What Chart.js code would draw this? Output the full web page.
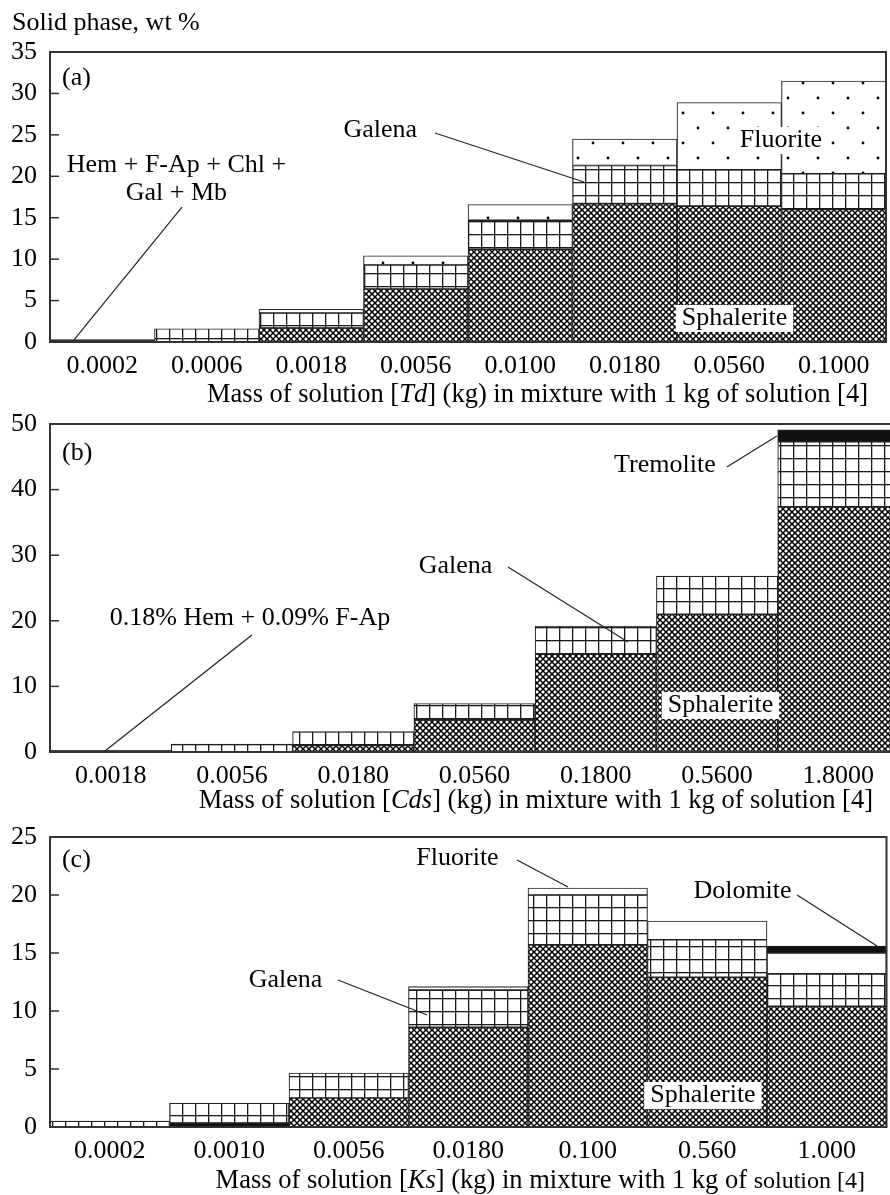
<!DOCTYPE html>
<html>
<head>
<meta charset="utf-8">
<script src="https://cdn.jsdelivr.net/npm/chart.js@4.4.1/dist/chart.umd.min.js"></script>
<style>
html, body { margin: 0; padding: 0; background: #fff; overflow: hidden; width: 890px; height: 1195px; }
canvas { position: absolute; left: 0; }
#chartA { top: 0; }
#chartB { top: 380px; }
#chartC { top: 790px; }
</style>
</head>
<body>
<canvas id="chartA" width="890" height="420"></canvas>
<canvas id="chartB" width="910" height="440"></canvas>
<canvas id="chartC" width="890" height="405"></canvas>
<script>
// ---- (a) solution [Td] + solution [4], wt % of solid phase
const labelsA = ['0.0002', '0.0006', '0.0018', '0.0056', '0.0100', '0.0180', '0.0560', '0.1000'];
const minorA = [0.3, 0, 0, 0, 0, 0, 0, 0];            // Hem + F-Ap + Chl + Gal + Mb
const sphaleriteA = [0, 0, 1.7, 6.4, 11.2, 16.7, 16.4, 16.0];
const galenaA = [0, 1.6, 1.8, 2.9, 3.5, 4.6, 4.4, 4.3];
const fluoriteA = [0, 0, 0.45, 1.1, 1.9, 3.2, 8.1, 11.2];

// ---- (b) solution [Cds]
const labelsB = ['0.0018', '0.0056', '0.0180', '0.0560', '0.1800', '0.5600', '1.8000'];
const minorB = [0.27, 0, 0, 0, 0, 0, 0];              // 0.18% Hem + 0.09% F-Ap
const sphaleriteB = [0, 0, 1.0, 4.9, 14.9, 21.0, 37.4];
const galenaB = [0, 1.2, 2.1, 2.5, 4.3, 5.8, 9.9];
const tremoliteB = [0, 0, 0, 0, 0, 0, 1.8];

// ---- (c) solution [Ks]
const labelsC = ['0.0002', '0.0010', '0.0056', '0.0180', '0.100', '0.560', '1.000'];
const minorC = [0, 0.35, 0, 0, 0, 0, 0];
const sphaleriteC = [0, 0, 2.5, 8.6, 15.7, 12.9, 10.4];
const galenaC = [0.5, 1.7, 2.15, 3.2, 4.3, 3.25, 2.8];
const fluoriteC = [0, 0, 0, 0.3, 0.6, 1.6, 1.8];
const dolomiteC = [0, 0, 0, 0, 0, 0, 0.6];

const FONT = '"Liberation Serif", "Times New Roman", serif';
const INK = '#000';
const EDGE = '#222';
const TXT = 26;
const font = (size, style) => `${style || ''} ${size}px ${FONT}`;

// hatch fills
function tile(w, h, paint) {
  const c = document.createElement('canvas');
  c.width = w; c.height = h;
  const g = c.getContext('2d');
  g.fillStyle = '#fff';
  g.fillRect(0, 0, w, h);
  paint(g);
  return g.createPattern(c, 'repeat');
}
const crossHatch = tile(6, 6, g => {
  g.strokeStyle = '#000'; g.lineWidth = 1.5;
  g.beginPath();
  g.moveTo(-1, -1); g.lineTo(7, 7);
  g.moveTo(7, -1); g.lineTo(-1, 7);
  g.stroke();
});
const squareGrid = tile(13, 13, g => {
  g.fillStyle = '#1a1a1a';
  g.fillRect(0, 0, 13, 1.3);
  g.fillRect(0, 0, 1.3, 13);
});
const dotted = tile(30, 30, g => {
  g.fillStyle = '#000';
  g.beginPath(); g.arc(8, 8, 1.4, 0, Math.PI * 2); g.fill();
  g.beginPath(); g.arc(23, 23, 1.4, 0, Math.PI * 2); g.fill();
});
const BLACK = '#111';

function ds(label, data, fill) {
  return { label, data, backgroundColor: fill, borderColor: EDGE, borderWidth: 1.1,
    borderSkipped: false, categoryPercentage: 1, barPercentage: 1 };
}

// frame, inward ticks, labels, leader lines, axis title
const decor = {
  id: 'decor',
  afterDatasetsDraw(chart, args, o) {
    const { ctx, chartArea: a, scales: { x, y } } = chart;
    const P = p => [x.getPixelForValue(p[0]), y.getPixelForValue(p[1])];
    ctx.save();
    ctx.strokeStyle = '#333';
    ctx.lineWidth = 1.5;
    y.ticks.forEach(t => {
      const py = y.getPixelForValue(t.value);
      ctx.beginPath(); ctx.moveTo(a.left, py); ctx.lineTo(a.left + 9, py); ctx.stroke();
    });
    ctx.lineWidth = 2;
    ctx.strokeRect(a.left, a.top, a.right - a.left, a.bottom - a.top);

    ctx.strokeStyle = '#222';
    ctx.lineWidth = 1.2;
    (o.leaders || []).forEach(([p, q]) => {
      const [x1, y1] = P(p), [x2, y2] = P(q);
      ctx.beginPath(); ctx.moveTo(x1, y1); ctx.lineTo(x2, y2); ctx.stroke();
    });

    ctx.textAlign = 'left';
    ctx.textBaseline = 'alphabetic';
    (o.notes || []).forEach(n => {
      ctx.font = font(TXT);
      const [px, py] = P(n.at);
      const w = ctx.measureText(n.text).width;
      const lx = n.align === 'left' ? px : px - w / 2;
      if (n.box) {
        ctx.fillStyle = '#fff';
        ctx.fillRect(lx - 6, py - 20, w + 12, 27);
      }
      ctx.fillStyle = INK;
      ctx.fillText(n.text, lx, py);
    });

    if (o.yTitle) {
      ctx.font = font(TXT);
      ctx.fillStyle = INK;
      ctx.fillText(o.yTitle.text, a.left + o.yTitle.dx, a.top + o.yTitle.dy);
    }
    if (o.xTitle) {
      const t = o.xTitle;
      const widths = t.parts.map(([s, st, sz]) => { ctx.font = font(sz || t.size, st); return ctx.measureText(s).width; });
      let cx = a.right - t.right - widths.reduce((m, w) => m + w, 0);
      ctx.fillStyle = INK;
      t.parts.forEach(([s, st, sz], i) => {
        ctx.font = font(sz || t.size, st);
        ctx.fillText(s, cx, a.bottom + t.below);
        cx += widths[i];
      });
    }
    ctx.restore();
  }
};

function makeChart(id, labels, datasets, yMax, step, area, decorOpts) {
  const cv = document.getElementById(id);
  return new Chart(cv, {
    type: 'bar',
    data: { labels, datasets },
    options: {
      responsive: false,
      animation: false,
      devicePixelRatio: 1,
      layout: { padding: { left: 0, top: area.top, right: cv.width - area.right, bottom: 0 } },
      plugins: { legend: { display: false }, tooltip: { enabled: false }, decor: decorOpts },
      scales: {
        x: {
          stacked: true,
          grid: { display: false, drawTicks: false },
          border: { display: false },
          ticks: { font: { family: FONT, size: TXT }, color: INK, padding: 9, maxRotation: 0, autoSkip: false },
          afterFit: s => { s.height = cv.height - area.bottom; }
        },
        y: {
          stacked: true,
          min: 0, max: yMax,
          grid: { display: false, drawTicks: false },
          border: { display: false },
          ticks: { stepSize: step, font: { family: FONT, size: TXT }, color: INK, padding: 13 },
          afterFit: s => { s.width = area.left; }
        }
      }
    },
    plugins: [decor]
  });
}

makeChart('chartA', labelsA, [
  ds('Hem + F-Ap + Chl + Gal + Mb', minorA, BLACK),
  ds('Sphalerite', sphaleriteA, crossHatch),
  ds('Galena', galenaA, squareGrid),
  ds('Fluorite', fluoriteA, dotted)
], 35, 5, { left: 50, top: 52, right: 886, bottom: 342 }, {
  yTitle: { text: 'Solid phase, wt %', dx: -38, dy: -22 },
  xTitle: { size: 26.5, parts: [['Mass of solution ['], ['Td', 'italic'], ['] (kg) in mixture with 1 kg of solution [4]']], right: 18, below: 60 },
  notes: [
    { text: '(a)', at: [-0.385, 31.0], align: 'left' },
    { text: 'Galena', at: [2.66, 24.74] },
    { text: 'Hem + F-Ap + Chl +', at: [0.71, 20.52] },
    { text: 'Gal + Mb', at: [0.71, 17.14] },
    { text: 'Fluorite', at: [6.495, 23.53], box: true },
    { text: 'Sphalerite', at: [6.05, 2.05], box: true }
  ],
  leaders: [
    [[3.184, 25.22], [4.61, 19.31]],
    [[0.763, 16.29], [-0.28, 0.12]]
  ]
});

makeChart('chartB', labelsB, [
  ds('0.18% Hem + 0.09% F-Ap', minorB, BLACK),
  ds('Sphalerite', sphaleriteB, crossHatch),
  ds('Galena', galenaB, squareGrid),
  ds('Tremolite', tremoliteB, BLACK)
], 50, 10, { left: 50, top: 44, right: 899, bottom: 372 }, {
  xTitle: { size: 26.5, parts: [['Mass of solution ['], ['Cds', 'italic'], ['] (kg) in mixture with 1 kg of solution [4]']], right: 26, below: 56 },
  notes: [
    { text: '(b)', at: [-0.401, 44.5], align: 'left' },
    { text: '0.18% Hem + 0.09% F-Ap', at: [1.149, 19.36] },
    { text: 'Galena', at: [2.843, 27.29] },
    { text: 'Tremolite', at: [4.57, 42.68] },
    { text: 'Sphalerite', at: [5.028, 6.1], box: true }
  ],
  leaders: [
    [[1.165, 17.84], [-0.047, 0.15]],
    [[3.276, 28.2], [4.265, 16.77]],
    [[5.081, 43.45], [5.493, 48.17]]
  ]
});

makeChart('chartC', labelsC, [
  ds('Other', minorC, BLACK),
  ds('Sphalerite', sphaleriteC, crossHatch),
  ds('Galena', galenaC, squareGrid),
  ds('Fluorite', fluoriteC, '#fff'),
  ds('Dolomite', dolomiteC, BLACK)
], 25, 5, { left: 50, top: 47, right: 886.5, bottom: 337 }, {
  xTitle: { size: 26.5, parts: [['Mass of solution ['], ['Ks', 'italic'], ['] (kg) in mixture with 1 kg of '], ['solution [4]', '', 24]], right: 21.5, below: 61 },
  notes: [
    { text: '(c)', at: [-0.4, 22.41], align: 'left' },
    { text: 'Fluorite', at: [2.91, 22.59] },
    { text: 'Dolomite', at: [5.295, 19.74] },
    { text: 'Galena', at: [1.471, 12.07] },
    { text: 'Sphalerite', at: [4.964, 2.16], box: true }
  ],
  leaders: [
    [[3.408, 23.02], [3.835, 20.69]],
    [[5.751, 20.0], [6.421, 15.6]],
    [[1.91, 12.67], [2.655, 9.66]]
  ]
});
</script>
</body>
</html>
